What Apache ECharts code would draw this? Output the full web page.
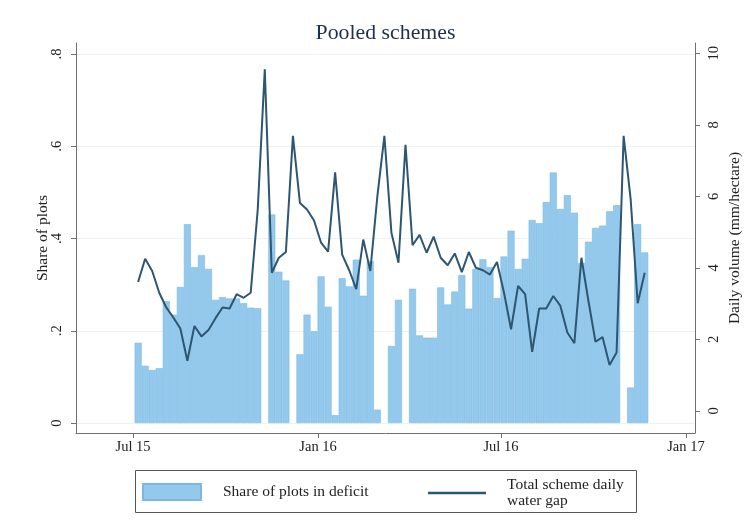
<!DOCTYPE html>
<html>
<head>
<meta charset="utf-8">
<script src="https://cdn.jsdelivr.net/npm/echarts@6/dist/echarts.min.js"></script>
<style>
  html, body { margin: 0; padding: 0; background: #fff; }
  #chart { width: 747px; height: 520px; }
</style>
</head>
<body>
<div id="chart"></div>
<script>
// Weekly observations, first week starting 6 July 2015 (null = no bar that week)
const firstWeekUTC = [2015, 6, 6];

const shareInDeficit = [
  0.174, 0.124, 0.115, 0.119, 0.264, 0.235, 0.295, 0.431, 0.338, 0.364,
  0.334, 0.267, 0.273, 0.270, 0.270, 0.260, 0.250, 0.249, null,  0.452,
  0.328, 0.309, null,  0.149, 0.235, 0.199, 0.318, 0.252, 0.017, 0.314,
  0.296, 0.354, 0.276, 0.351, 0.029, null,  0.167, 0.267, null,  0.291,
  0.190, 0.185, 0.185, 0.294, 0.257, 0.285, 0.321, 0.248, 0.334, 0.355,
  0.338, 0.271, 0.361, 0.417, 0.334, 0.356, 0.440, 0.433, 0.479, 0.543,
  0.464, 0.494, 0.456, 0.347, 0.393, 0.423, 0.428, 0.459, 0.472, null,
  0.077, 0.431, 0.370
];

const waterGap = [
  3.60, 4.25, 3.91, 3.30, 2.89, 2.61, 2.30, 1.40, 2.37, 2.08,
  2.26, 2.59, 2.89, 2.86, 3.26, 3.16, 3.30, 5.63, 9.55, 3.86,
  4.28, 4.44, 7.69, 5.81, 5.63, 5.32, 4.70, 4.45, 6.67, 4.37,
  3.93, 3.40, 4.79, 3.91, 6.00, 7.69, 4.98, 4.14, 7.44, 4.63,
  4.92, 4.42, 4.87, 4.28, 4.07, 4.40, 3.88, 4.44, 4.00, 3.93,
  3.81, 4.16, 3.30, 2.28, 3.49, 3.26, 1.65, 2.86, 2.86, 3.21,
  2.94, 2.19, 1.89, 4.28, 3.07, 1.93, 2.06, 1.28, 1.63, 7.69,
  5.91, 3.01, 3.86
];

const xTickDates  = [[2015, 6, 1], [2016, 0, 1], [2016, 6, 1], [2017, 0, 1]];
const xTickLabels = ['Jul 15', 'Jan 16', 'Jul 16', 'Jan 17'];

const leftTicks      = [0, 0.2, 0.4, 0.6, 0.8];
const leftTickLabels = ['0', '.2', '.4', '.6', '.8'];
const rightTicks     = [0, 2, 4, 6, 8, 10];

const DAY = 86400000;
const start = Date.UTC(...firstWeekUTC);
const weeks = shareInDeficit.map((_, i) => start + i * 7 * DAY);
const tickTimes = xTickDates.map(d => Date.UTC(...d));

const barData  = weeks.map((t, i) => [t, shareInDeficit[i]]);
const lineData = weeks.map((t, i) => [t, waterGap[i]]);

const FONT = "'Liberation Serif', 'Times New Roman', serif";
const TEXT = '#222';
const AXIS = '#6f6f6f';
const BAR = '#93c9ec';
const BAR_EDGE = '#7db8e0';
const LINE = '#2c5672';

const chart = echarts.init(document.getElementById('chart'), null, { renderer: 'canvas' });

chart.setOption({
  animation: false,
  backgroundColor: '#fff',
  textStyle: { fontFamily: FONT },
  title: {
    text: 'Pooled schemes',
    left: 385.5,
    top: 22,
    padding: 0,
    textAlign: 'center',
    textStyle: { fontFamily: FONT, fontSize: 21.8, fontWeight: 'normal', color: '#1f2f4e' }
  },
  grid: {
    left: 76, right: 52, top: 43, bottom: 87,
    containLabel: false,
    outerBoundsMode: 'none'
  },
  xAxis: {
    // dates as UTC milliseconds on a plain numeric axis
    type: 'value',
    min: tickTimes[0] - 56.8 * DAY,
    max: tickTimes[0] + 559 * DAY,
    axisLine: { show: true, onZero: false, lineStyle: { color: AXIS, width: 1 } },
    axisTick: { show: true, length: 5, customValues: tickTimes, lineStyle: { color: AXIS } },
    axisLabel: {
      customValues: tickTimes,
      margin: 7,
      color: TEXT,
      fontFamily: FONT,
      fontSize: 14.5,
      formatter: v => xTickLabels[tickTimes.indexOf(v)]
    },
    splitLine: { show: false }
  },
  yAxis: [
    {
      type: 'value',
      position: 'left',
      min: -0.0216,
      max: 0.8238,
      name: 'Share of plots',
      nameLocation: 'middle',
      nameGap: 25,
      nameMoveOverlap: false,
      nameTextStyle: { fontFamily: FONT, fontSize: 15.5, color: TEXT },
      axisLine: { show: true, onZero: false, lineStyle: { color: AXIS, width: 1 } },
      axisTick: { show: true, length: 5, customValues: leftTicks, lineStyle: { color: AXIS } },
      axisLabel: {
        customValues: leftTicks,
        rotate: 90,
        margin: 11,
        color: TEXT,
        fontFamily: FONT,
        fontSize: 14.5,
        formatter: v => leftTickLabels[leftTicks.indexOf(v)]
      },
      splitLine: { show: true, lineStyle: { color: '#edf1f4', width: 1 } }
    },
    {
      type: 'value',
      position: 'right',
      min: -0.622,
      max: 10.287,
      name: 'Daily volume (mm/hectare)',
      nameLocation: 'middle',
      nameGap: 32,
      nameRotate: 90,
      nameMoveOverlap: false,
      nameTextStyle: { fontFamily: FONT, fontSize: 15.5, color: TEXT },
      axisLine: { show: true, onZero: false, lineStyle: { color: AXIS, width: 1 } },
      axisTick: { show: true, length: 5, customValues: rightTicks, lineStyle: { color: AXIS } },
      axisLabel: {
        customValues: rightTicks,
        rotate: 90,
        margin: 12,
        color: TEXT,
        fontFamily: FONT,
        fontSize: 14.5
      },
      splitLine: { show: false }
    }
  ],
  legend: [
    {
      left: 142,
      top: 483,
      padding: 0,
      data: [{ name: 'Share of plots in deficit', icon: 'rect' }],
      itemWidth: 58,
      itemHeight: 16,
      textStyle: { fontFamily: FONT, fontSize: 15.5, color: TEXT, lineHeight: 16, padding: [0, 0, 0, 17] }
    },
    {
      left: 428,
      top: 477,
      padding: 0,
      data: [{ name: 'Total scheme daily water gap', icon: 'rect' }],
      itemWidth: 58,
      itemHeight: 2.4,
      formatter: () => 'Total scheme daily\nwater gap',
      textStyle: { fontFamily: FONT, fontSize: 15.5, color: TEXT, lineHeight: 16, padding: [0, 0, 0, 16] }
    }
  ],
  graphic: [
    {
      type: 'rect',
      shape: { x: 135.5, y: 470.5, width: 501, height: 42 },
      style: { fill: 'none', stroke: '#555', lineWidth: 1 },
      silent: true,
      z: 0
    }
  ],
  series: [
    {
      name: 'Share of plots in deficit',
      type: 'bar',
      yAxisIndex: 0,
      data: barData,
      barWidth: 7,
      itemStyle: { color: BAR, borderColor: BAR_EDGE, borderWidth: 0.6 }
    },
    {
      name: 'Total scheme daily water gap',
      type: 'line',
      yAxisIndex: 1,
      data: lineData,
      symbol: 'none',
      showSymbol: false,
      lineStyle: { color: LINE, width: 2 },
      itemStyle: { color: LINE },
      z: 3
    }
  ]
});
</script>
</body>
</html>
